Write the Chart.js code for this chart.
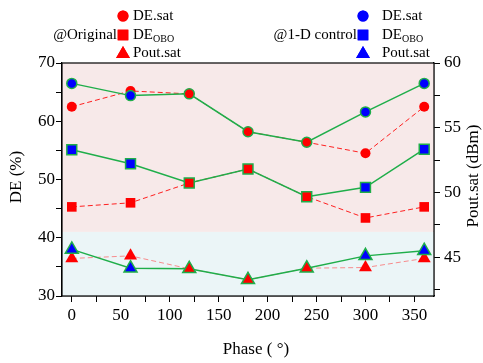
<!DOCTYPE html>
<html>
<head>
<meta charset="utf-8">
<script src="https://cdn.jsdelivr.net/npm/chart.js@4"></script>
<style>
  html, body { margin: 0; padding: 0; background: #fff; }
  #wrap { width: 483px; height: 363px; position: relative; }
</style>
</head>
<body>
<div id="wrap"><canvas id="grafico"></canvas></div>
<script>
// Datos
const phases = [0, 60, 120, 180, 240, 300, 360];
const deSatOrig = [62.5, 65.2, 64.7, 58.2, 56.4, 54.5, 62.5];
const deSatCtrl = [66.5, 64.4, 64.7, 58.2, 56.4, 61.6, 66.5];
const deOboOrig = [45.3, 46.0, 49.4, 51.8, 47.05, 43.4, 45.3];
const deOboCtrl = [55.1, 52.7, 49.4, 51.8, 47.05, 48.65, 55.2];
const poutOrig = [44.9, 45.1, 44.1, 43.25, 44.15, 44.2, 44.9];
const poutCtrl = [45.6, 44.15, 44.1, 43.25, 44.15, 45.1, 45.5];
// puntos donde el control coincide con el original (marcador rojo)
const sameAsOrig = [false, false, true, true, true, false, false];

const RED = '#ff0000';
const BLUE = '#0000ff';
const GREEN = '#1fae4a';
const FONT = 'Liberation Serif';

const pts = (ys) => phases.map((x, i) => ({ x: x, y: ys[i] }));
const ctrlColors = sameAsOrig.map(s => s ? RED : BLUE);

function serie(ys, style, radius, axis, ctrl, lineColor) {
    return {
        data: pts(ys),
        yAxisID: axis,
        order: ctrl ? 0 : 1,
        borderColor: ctrl ? GREEN : lineColor,
        borderWidth: ctrl ? 1.5 : 1,
        borderDash: ctrl ? [] : [5, 3],
        pointStyle: style,
        pointRadius: radius,
        pointBackgroundColor: ctrl ? ctrlColors : RED,
        pointBorderColor: ctrl ? GREEN : RED,
        pointBorderWidth: ctrl ? 1.5 : 0,
        tension: 0
    };
}

// fondo rosa / azul y marco
const fondo = {
    id: 'fondo',
    beforeDatasetsDraw(chart) {
        const { ctx, chartArea: a, scales } = chart;
        const yCut = scales.y.getPixelForValue(41);
        ctx.save();
        ctx.fillStyle = '#f7e9e9';
        ctx.fillRect(a.left, a.top, a.right - a.left, yCut - a.top);
        ctx.fillStyle = '#ebf5f7';
        ctx.fillRect(a.left, yCut, a.right - a.left, a.bottom - yCut);
        ctx.restore();
    },
    afterDraw(chart) {
        const { ctx, chartArea: a } = chart;
        ctx.save();
        ctx.strokeStyle = '#000';
        ctx.lineWidth = 1.2;
        ctx.strokeRect(a.left, a.top, a.right - a.left, a.bottom - a.top);

        // titulos de ejes
        ctx.fillStyle = '#000';
        ctx.font = '17px "' + FONT + '"';
        ctx.textAlign = 'center';
        ctx.textBaseline = 'middle';
        ctx.fillText('Phase ( \u00b0)', 256, 350);
        ctx.save();
        ctx.translate(17, 177);
        ctx.rotate(-Math.PI / 2);
        ctx.fillText('DE (%)', 0, 0);
        ctx.restore();
        ctx.save();
        ctx.translate(474, 176);
        ctx.rotate(-Math.PI / 2);
        ctx.fillText('Pout.sat (dBm)', 0, 0);
        ctx.restore();

        // leyenda
        const filas = [16, 35, 53];
        const estilos = [['circle', 5.5], ['rect', 7.5], ['triangle', 8]];
        const textos = ['DE.sat', 'DE', 'Pout.sat'];
        const grupos = [
            { nombre: '@Original', color: RED, mx: 123, tx: 133 },
            { nombre: '@1-D control', color: BLUE, mx: 363, tx: 382 }
        ];
        grupos.forEach(g => {
            filas.forEach((fy, i) => {
                ctx.fillStyle = g.color;
                ctx.strokeStyle = g.color;
                Chart.helpers.drawPoint(ctx, { pointStyle: estilos[i][0], radius: estilos[i][1], borderWidth: 0 }, g.mx, fy + (i === 2 ? 1 : 0));
                ctx.fill();
                ctx.fillStyle = '#000';
                ctx.textAlign = 'left';
                ctx.font = '15px "' + FONT + '"';
                ctx.fillText(textos[i], g.tx, fy);
                if (i === 1) {
                    const w = ctx.measureText('DE').width;
                    ctx.font = '10px "' + FONT + '"';
                    ctx.fillText('OBO', g.tx + w, fy + 4);
                }
            });
            ctx.font = '15px "' + FONT + '"';
            ctx.textAlign = 'right';
            ctx.fillText(g.nombre, g.mx - 6, filas[1]);
        });
        ctx.restore();
    }
};

const tickFont = { family: FONT, size: 17 };

new Chart(document.getElementById('grafico'), {
    type: 'line',
    data: {
        datasets: [
            serie(deSatOrig, 'circle', 5, 'y', false, '#ff2020'),
            serie(deOboOrig, 'rect', 6.8, 'y', false, '#ff2020'),
            serie(poutOrig, 'triangle', 7.5, 'y2', false, 'rgba(255,70,70,0.6)'),
            serie(deSatCtrl, 'circle', 5, 'y', true),
            serie(deOboCtrl, 'rect', 7, 'y', true),
            serie(poutCtrl, 'triangle', 7.5, 'y2', true)
        ]
    },
    options: {
        responsive: true,
        maintainAspectRatio: false,
        animation: false,
        layout: { padding: { top: 63, left: 0, right: 0, bottom: 0 } },
        plugins: { legend: { display: false }, tooltip: { enabled: false } },
        scales: {
            x: {
                type: 'linear',
                min: -10,
                max: 370,
                grid: { drawOnChartArea: false, color: '#000', tickLength: 6 },
                border: { color: '#000', width: 1.2 },
                ticks: {
                    stepSize: 25,
                    includeBounds: false,
                    maxRotation: 0,
                    autoSkip: false,
                    padding: 3,
                    color: '#000',
                    font: tickFont,
                    callback: v => (v % 50 === 0 ? String(v) : '')
                },
                afterFit: s => { s.height = 67; }
            },
            y: {
                position: 'left',
                min: 30,
                max: 70,
                grid: { drawOnChartArea: false, color: '#000', tickLength: 6 },
                border: { color: '#000', width: 1.2 },
                ticks: {
                    stepSize: 5,
                    includeBounds: false,
                    autoSkip: false,
                    padding: 1,
                    color: '#000',
                    font: tickFont,
                    callback: v => (v % 10 === 0 ? String(v) : '')
                },
                afterFit: s => { s.width = 62; }
            },
            y2: {
                position: 'right',
                min: 42,
                max: 60,
                grid: { drawOnChartArea: false, color: '#000', tickLength: 6 },
                border: { color: '#000', width: 1.2 },
                ticks: {
                    stepSize: 2.5,
                    includeBounds: false,
                    autoSkip: false,
                    padding: 4,
                    color: '#000',
                    font: tickFont,
                    callback: v => (v % 5 === 0 ? String(v) : '')
                },
                afterFit: s => { s.width = 49; }
            }
        }
    },
    plugins: [fondo]
});
</script>
</body>
</html>
